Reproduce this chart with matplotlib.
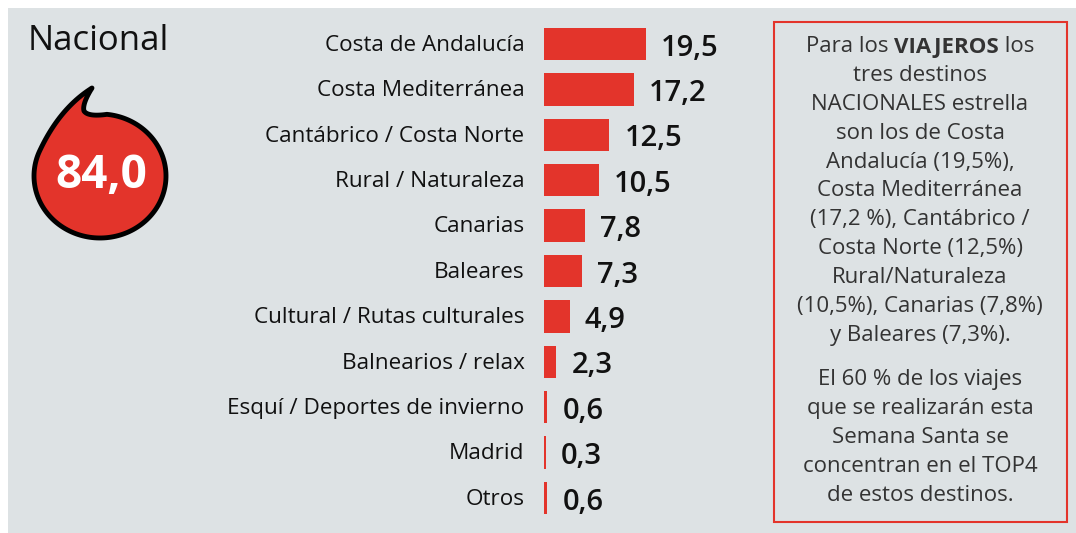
import matplotlib
matplotlib.use("Agg")
import matplotlib.pyplot as plt
import numpy as np
from matplotlib.path import Path
from matplotlib.patches import PathPatch, Rectangle

categories = ["Costa de Andalucía", "Costa Mediterránea", "Cantábrico / Costa Norte",
              "Rural / Naturaleza", "Canarias", "Baleares", "Cultural / Rutas culturales",
              "Balnearios / relax", "Esquí / Deportes de invierno", "Madrid", "Otros"]
values = [19.5, 17.2, 12.5, 10.5, 7.8, 7.3, 4.9, 2.3, 0.6, 0.3, 0.6]
value_labels = ["19,5", "17,2", "12,5", "10,5", "7,8", "7,3", "4,9", "2,3", "0,6", "0,3", "0,6"]
total_label = "84,0"
title = "Nacional"
box_lines_1 = ["tres destinos", "NACIONALES estrella", "son los de Costa",
               "Andalucía (19,5%),", "Costa Mediterránea", "(17,2 %), Cantábrico /",
               "Costa Norte (12,5%)", "Rural/Naturaleza", "(10,5%), Canarias (7,8%)",
               "y Baleares (7,3%)."]
box_lines_2 = ["El 60 % de los viajes", "que se realizarán esta", "Semana Santa se",
               "concentran en el TOP4", "de estos destinos."]

W, H = 1076, 533
BG = "#dde2e4"
RED = "#e3342b"
FONT = ["Open Sans", "DejaVu Sans"]
plt.rcParams["font.family"] = FONT

fig = plt.figure(figsize=(W / 100, H / 100), dpi=100)
fig.patch.set_facecolor("white")

# overlay axes in pixel coordinates
ov = fig.add_axes([0, 0, 1, 1])
ov.set_xlim(0, W)
ov.set_ylim(H, 0)
ov.axis("off")
ov.add_patch(Rectangle((8, 8), W - 8, H - 8, facecolor=BG, edgecolor="none", zorder=0))

# bar axes
x0_px = 544
px_per_unit = 5.23
row0 = 44
row_step = 45.4
n = len(values)
ax_left = x0_px / W
ax_width = (760 - x0_px) / W
ytop_px = row0 - row_step / 2
ybot_px = row0 + row_step * (n - 1) + row_step / 2
ax = fig.add_axes([ax_left, 1 - ybot_px / H, ax_width, (ybot_px - ytop_px) / H])
ax.set_xlim(0, (760 - x0_px) / px_per_unit)
ax.set_ylim(n - 0.5, -0.5)
ax.axis("off")
ypos = np.arange(n)
ax.barh(ypos, values, height=0.71, color=RED, edgecolor="none")
for y, v, lab, cat in zip(ypos, values, value_labels, categories):
    ax.annotate(lab, (v, y), xytext=(11, -3), textcoords="offset points",
                ha="left", va="center", fontsize=21, fontweight="semibold", color="#111111")
    ax.annotate(cat, (0, y), xytext=(-14, -1), textcoords="offset points",
                ha="right", va="center", fontsize=16.2, color="#111111")

# title
ov.text(28, 41, title, fontsize=25, color="#111111", ha="left", va="center")

# bubble
cx, cy, rx, ry = 100, 176, 66, 62
t = np.radians(np.linspace(84, -205, 140))
arc = np.column_stack([cx + rx * np.cos(t), cy - ry * np.sin(t)])
def bez(p0, p1, p2, k=24):
    s = np.linspace(0, 1, k)[:, None]
    return (1 - s) ** 2 * np.array(p0) + 2 * (1 - s) * s * np.array(p1) + s ** 2 * np.array(p2)
tail1 = bez(arc[-1], (60, 108), (92, 88))
tail2 = bez((92, 88), (82, 104), (84, 111))
tail3 = bez((84, 111), (88, 117), arc[0])
pts = np.vstack([arc, tail1, tail2, tail3])
ov.add_patch(PathPatch(Path(pts, closed=True), facecolor=RED, edgecolor="black",
                       linewidth=3.5, zorder=3, joinstyle="round"))
ov.text(cx + 1, cy - 1, total_label, fontsize=33, fontweight="bold", color="white",
        ha="center", va="center", zorder=4)

# text box
ov.add_patch(Rectangle((774, 22), 1067 - 774, 522 - 22, facecolor="none",
                       edgecolor=RED, linewidth=1.5, zorder=2))
tx = 920
TC = "#333333"
fs = 16
fig.canvas.draw()
rend = fig.canvas.get_renderer()
parts = [("Para los ", "normal"), ("VIAJEROS", "bold"), (" los", "normal")]
objs = []
for s, w in parts:
    objs.append(ov.text(0, 47, s, fontsize=fs, fontweight=w, color=TC, ha="left", va="center"))
widths = [o.get_window_extent(rend).width for o in objs]
total = sum(widths)
xpix = tx - total / 2
for o, wd in zip(objs, widths):
    o.set_x(xpix)
    xpix += wd
step = 28.8
for i, line in enumerate(box_lines_1):
    ov.text(tx, 47 + step * (i + 1), line, fontsize=fs, color=TC, ha="center", va="center")
for i, line in enumerate(box_lines_2):
    ov.text(tx, 380 + step * i, line, fontsize=fs, color=TC, ha="center", va="center")

fig.savefig("out.png", dpi=100, facecolor="white")
